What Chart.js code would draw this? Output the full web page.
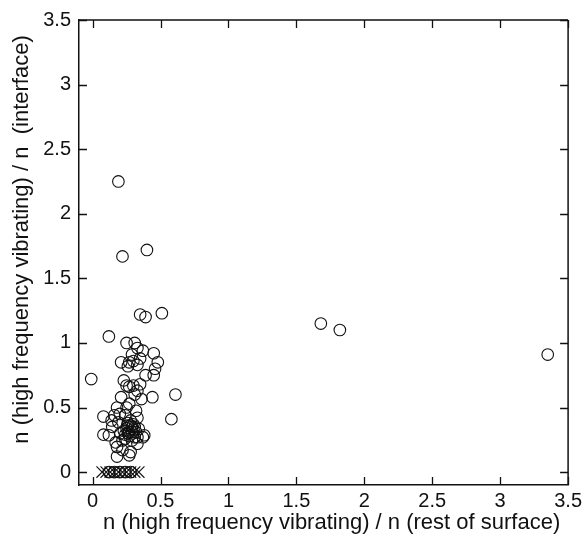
<!DOCTYPE html>
<html>
<head>
<meta charset="utf-8">
<script src="https://cdn.jsdelivr.net/npm/chart.js@4/dist/chart.umd.min.js"></script>
<style>
  html, body { margin: 0; padding: 0; background: #fff; }
  #wrap { width: 586px; height: 544px; }
</style>
</head>
<body>
<div id="wrap"><canvas id="c" width="586" height="544"></canvas></div>
<script>
// ---- data ----
const xTitle = "n (high frequency vibrating) / n (rest of surface)";
const yTitle = "n (high frequency vibrating) / n  (interface)";
const xTicks = [0, 0.5, 1, 1.5, 2, 2.5, 3, 3.5];
const yTicks = [0, 0.5, 1, 1.5, 2, 2.5, 3, 3.5];

const circleX = [
  -0.01, 0.12, 0.19, 0.22, 0.40, 0.35, 0.39, 0.51, 1.68, 1.82, 3.35, 0.61, 0.58, 0.08, 0.08,
  0.25, 0.31, 0.33, 0.37, 0.29, 0.45, 0.48, 0.21, 0.27, 0.30, 0.33, 0.35, 0.26, 0.46, 0.45,
  0.39, 0.23, 0.25, 0.30, 0.35, 0.27, 0.33, 0.21, 0.36, 0.44, 0.31,
  0.18, 0.27, 0.32, 0.25, 0.16, 0.24, 0.33, 0.20, 0.19, 0.255, 0.29, 0.34, 0.145, 0.12,
  0.205, 0.27, 0.32, 0.38, 0.37, 0.17, 0.22, 0.29, 0.33, 0.18, 0.22, 0.28, 0.18, 0.26,
  0.28, 0.30, 0.27, 0.25, 0.23, 0.30, 0.31, 0.24, 0.14, 0.27,
  0.26, 0.29, 0.31, 0.28, 0.24, 0.33,
  0.12, 0.16, 0.20, 0.24, 0.28
];
const circleY = [
  0.72, 1.05, 2.25, 1.67, 1.72, 1.22, 1.20, 1.23, 1.15, 1.10, 0.91, 0.60, 0.41, 0.43, 0.29,
  1.00, 1.00, 0.96, 0.94, 0.91, 0.92, 0.85, 0.85, 0.85, 0.86, 0.83, 0.88, 0.82, 0.80, 0.75,
  0.75, 0.71, 0.67, 0.67, 0.68, 0.66, 0.63, 0.58, 0.565, 0.58, 0.60,
  0.50, 0.53, 0.475, 0.50, 0.44, 0.44, 0.42, 0.45, 0.385, 0.36, 0.35, 0.335, 0.35, 0.285,
  0.30, 0.31, 0.31, 0.285, 0.27, 0.23, 0.245, 0.245, 0.22, 0.195, 0.17, 0.155, 0.12, 0.38,
  0.40, 0.33, 0.28, 0.34, 0.32, 0.37, 0.27, 0.26, 0.40, 0.13,
  0.30, 0.31, 0.35, 0.36, 0.29, 0.27,
  0, 0, 0, 0, 0
];
const crossX = [0.07, 0.10, 0.13, 0.16, 0.19, 0.22, 0.25, 0.28, 0.31, 0.34];
const crossY = [0, 0, 0, 0, 0, 0, 0, 0, 0, 0];

const circles = circleX.map((x, i) => ({ x: x, y: circleY[i] }));
const crosses = crossX.map((x, i) => ({ x: x, y: crossY[i] }));

const FONT = "'Liberation Sans', Arial, sans-serif";
const INK = "#111";

// inward ticks on all four sides, top/right frame, and axis titles
const frameTicks = {
  id: 'frameTicks',
  afterDraw(chart) {
    const ctx = chart.ctx, a = chart.chartArea;
    const xs = chart.scales.x, ys = chart.scales.y;
    const L = 8;
    ctx.save();
    ctx.strokeStyle = INK;
    ctx.lineWidth = 1.5;
    ctx.beginPath();
    ctx.moveTo(a.left, a.top); ctx.lineTo(a.right, a.top);
    ctx.moveTo(a.right, a.top); ctx.lineTo(a.right, a.bottom);
    ctx.stroke();
    ctx.lineWidth = 1.3;
    ctx.beginPath();
    xTicks.forEach(v => {
      const p = Math.round(xs.getPixelForValue(v)) + 0.5;
      ctx.moveTo(p, a.bottom); ctx.lineTo(p, a.bottom - L);
      ctx.moveTo(p, a.top); ctx.lineTo(p, a.top + L);
    });
    yTicks.forEach(v => {
      const p = Math.round(ys.getPixelForValue(v)) + 0.5;
      ctx.moveTo(a.left, p); ctx.lineTo(a.left + L, p);
      ctx.moveTo(a.right, p); ctx.lineTo(a.right - L, p);
    });
    ctx.stroke();

    // axis titles
    ctx.fillStyle = INK;
    ctx.font = "22px " + FONT;
    ctx.textAlign = 'center';
    ctx.textBaseline = 'middle';
    ctx.fillText(xTitle, a.left + (a.right - a.left) / 2 + 8, 523);
    ctx.translate(22, a.top + (a.bottom - a.top) / 2 - 13);
    ctx.rotate(-Math.PI / 2);
    ctx.fillText(yTitle, 0, 0);
    ctx.restore();
  }
};

new Chart(document.getElementById('c'), {
  type: 'scatter',
  data: {
    datasets: [
      {
        label: 'circles',
        data: circles,
        pointStyle: 'circle',
        pointRadius: 5.8,
        pointBorderWidth: 1.1,
        borderColor: INK,
        backgroundColor: 'rgba(0,0,0,0)'
      },
      {
        label: 'crosses',
        data: crosses,
        pointStyle: 'crossRot',
        pointRadius: 8,
        pointBorderWidth: 1.1,
        borderColor: INK,
        backgroundColor: 'rgba(0,0,0,0)'
      }
    ]
  },
  options: {
    responsive: false,
    animation: false,
    layout: { padding: { top: 15, right: 16, left: 0, bottom: 0 } },
    plugins: { legend: { display: false }, tooltip: { enabled: false } },
    scales: {
      x: {
        type: 'linear',
        min: -0.1,
        max: 3.5,
        afterBuildTicks: s => { s.ticks = xTicks.map(v => ({ value: v })); },
        afterFit: s => { s.height = 59; },
        grid: { display: false, drawTicks: false },
        border: { display: true, color: INK, width: 1.5 },
        ticks: {
          color: INK, padding: 4,
          font: { family: FONT, size: 20 },
          maxRotation: 0, autoSkip: false,
          callback: v => String(v)
        },
        title: { display: false }
      },
      y: {
        type: 'linear',
        min: -0.1,
        max: 3.5,
        afterBuildTicks: s => { s.ticks = yTicks.map(v => ({ value: v })); },
        afterFit: s => { s.width = 79; },
        grid: { display: false, drawTicks: false },
        border: { display: true, color: INK, width: 1.5 },
        ticks: {
          color: INK, padding: 8,
          font: { family: FONT, size: 20 },
          autoSkip: false,
          callback: v => String(v)
        },
        title: { display: false }
      }
    }
  },
  plugins: [frameTicks]
});
</script>
</body>
</html>
